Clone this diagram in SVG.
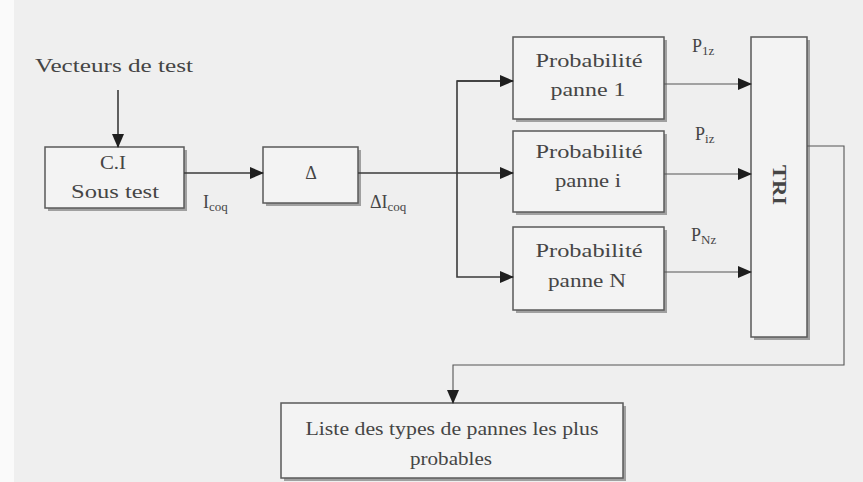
<svg xmlns="http://www.w3.org/2000/svg" width="863" height="482" viewBox="0 0 863 482">
  <style>
    text { font-family: "Liberation Serif", "DejaVu Serif", "Times New Roman", serif; fill: #454545; font-size: 18px; }
    .box { fill: #f3f3f3; stroke: #5a5a5a; stroke-width: 1.5; }
    .shadow { fill: #a0a0a0; }
    .wire { fill: none; stroke: #3a3a3a; stroke-width: 1.6; }
    .thin { fill: none; stroke: #555; stroke-width: 1.1; }
    .sub { font-size: 13px; }
    .mid { text-anchor: middle; }
  </style>
  <defs>
    <marker id="arrow" markerWidth="14" markerHeight="12" refX="13" refY="6" orient="auto" markerUnits="userSpaceOnUse">
      <path d="M0,0 L14,6 L0,12 Z" fill="#1e1e1e"/>
    </marker>
  </defs>

  <rect width="863" height="482" fill="#efefef"/>
  <rect width="14" height="482" fill="#fafafa"/>

  <text x="35" y="72" textLength="158" lengthAdjust="spacingAndGlyphs">Vecteurs de test</text>

  <!-- circuit under test -->
  <g id="node-ci">
    <rect class="shadow" x="48" y="150" width="139" height="61"/>
    <rect class="box" x="45" y="147" width="139" height="61"/>
    <text x="113" y="169" class="mid" textLength="26" lengthAdjust="spacingAndGlyphs">C.I</text>
    <text x="115" y="198" class="mid" textLength="88" lengthAdjust="spacingAndGlyphs">Sous test</text>
  </g>

  <!-- delta block -->
  <g id="node-delta">
    <rect class="shadow" x="266" y="150" width="95" height="56"/>
    <rect class="box" x="263" y="147" width="95" height="56"/>
    <text x="311" y="179" class="mid" font-size="15">Δ</text>
  </g>

  <!-- fault probability blocks -->
  <g id="node-p1">
    <rect class="shadow" x="516" y="40" width="151" height="82"/>
    <rect class="box" x="513" y="37" width="151" height="82"/>
    <text x="589" y="67" class="mid" textLength="107" lengthAdjust="spacingAndGlyphs">Probabilité</text>
    <text x="588" y="96" class="mid" textLength="75" lengthAdjust="spacingAndGlyphs">panne 1</text>
  </g>
  <g id="node-pi">
    <rect class="shadow" x="516" y="134" width="151" height="81"/>
    <rect class="box" x="513" y="131" width="151" height="81"/>
    <text x="589" y="158" class="mid" textLength="107" lengthAdjust="spacingAndGlyphs">Probabilité</text>
    <text x="588" y="187" class="mid" textLength="66" lengthAdjust="spacingAndGlyphs">panne i</text>
  </g>
  <g id="node-pn">
    <rect class="shadow" x="516" y="230" width="151" height="83"/>
    <rect class="box" x="513" y="227" width="151" height="83"/>
    <text x="589" y="257" class="mid" textLength="107" lengthAdjust="spacingAndGlyphs">Probabilité</text>
    <text x="587" y="287" class="mid" textLength="78" lengthAdjust="spacingAndGlyphs">panne N</text>
  </g>

  <!-- sort block -->
  <g id="node-tri">
    <rect class="shadow" x="754" y="40" width="56" height="300"/>
    <rect class="box" x="751" y="37" width="56" height="300"/>
    <text x="0" y="0" class="mid" font-weight="bold" transform="translate(773,185) rotate(90)" textLength="40" lengthAdjust="spacingAndGlyphs">TRI</text>
  </g>

  <!-- result list -->
  <g id="node-list">
    <rect class="shadow" x="284" y="406" width="342" height="75"/>
    <rect class="box" x="281" y="403" width="342" height="75"/>
    <text x="452" y="435" class="mid" textLength="293" lengthAdjust="spacingAndGlyphs">Liste des types de pannes les plus</text>
    <text x="451" y="465" class="mid" textLength="82" lengthAdjust="spacingAndGlyphs">probables</text>
  </g>

  <!-- signal labels -->
  <g id="labels">
    <text x="203" y="208">I<tspan class="sub" dy="3">coq</tspan></text>
    <text x="370" y="208">ΔI<tspan class="sub" dy="3">coq</tspan></text>
    <text x="692" y="52">P<tspan class="sub" dy="3">1z</tspan></text>
    <text x="695" y="140">P<tspan class="sub" dy="3">iz</tspan></text>
    <text x="691" y="241">P<tspan class="sub" dy="3">Nz</tspan></text>
  </g>

  <g id="connectors">
    <line class="wire" x1="118" y1="90" x2="118" y2="147" marker-end="url(#arrow)"/>
    <line class="wire" x1="184" y1="173" x2="263" y2="173" marker-end="url(#arrow)"/>
    <line class="wire" x1="358" y1="173" x2="513" y2="173" marker-end="url(#arrow)"/>
    <polyline class="wire" points="513,81 457,81 457,277 513,277" marker-end="url(#arrow)"/>
    <polyline class="wire" points="457,81 513,81" marker-end="url(#arrow)"/>
    <line class="thin" x1="664" y1="84" x2="751" y2="84" marker-end="url(#arrow)"/>
    <line class="thin" x1="664" y1="174" x2="751" y2="174" marker-end="url(#arrow)"/>
    <line class="thin" x1="664" y1="272" x2="751" y2="272" marker-end="url(#arrow)"/>
    <polyline class="thin" points="807,146 844,146 844,365 453,365 453,403" marker-end="url(#arrow)"/>
  </g>
</svg>
